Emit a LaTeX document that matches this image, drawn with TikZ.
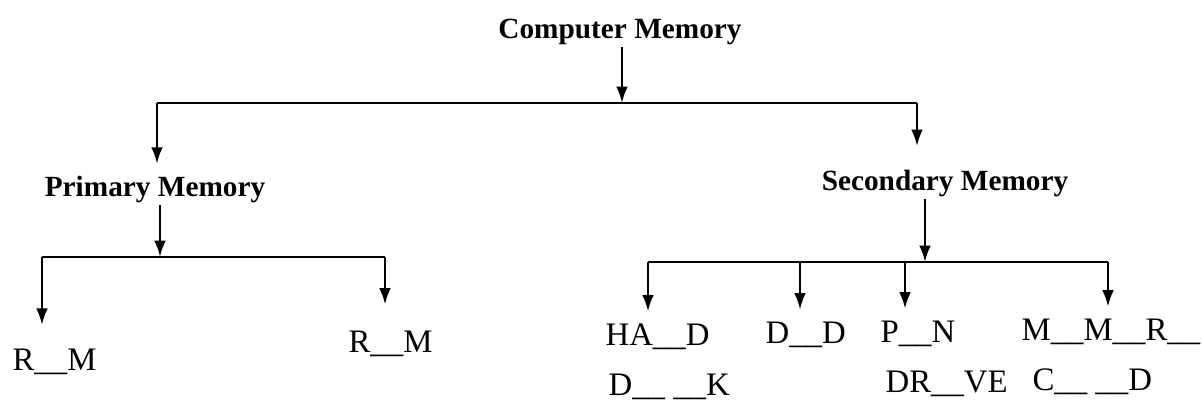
\documentclass[tikz,border=0pt]{standalone}
\usepackage{fontspec}
\setmainfont{Liberation Serif}
\usetikzlibrary{arrows.meta}
\tikzset{
	head/.style={font=\fontsize{25}{30}\selectfont\bfseries, inner sep=2pt},
	gap/.style={font=\fontsize{28}{34}\selectfont, inner sep=2pt},
	bar/.style={line width=2pt},
	link/.style={line width=2pt, -{Latex[length=14pt,width=10pt]}}
}
\begin{document}
\begin{tikzpicture}[x=0.03cm, y=-0.03cm]
				\useasboundingbox (0,0) rectangle (1203,408);
				% headings
				\node[head, anchor=base] (CM) at (620,38) {Computer Memory};
				\node[head, anchor=base] (PM) at (155,196) {Primary Memory};
				\node[head, anchor=base] (SM) at (945,190) {Secondary Memory};
				% primary memory
				\node[gap, anchor=base west] (RM1) at (10,370) {R\_\_M};
				\node[gap, anchor=base west] (RM2) at (346,352) {R\_\_M};
				% secondary memory
				\node[gap, anchor=base west] (HD) at (603,345) {HA\_\_D};
				\node[gap, anchor=base west] (HD2) at (606,395) {D\_\_ \_\_K};
				\node[gap, anchor=base west] (DD) at (763,343) {D\_\_D};
				\node[gap, anchor=base west] (PN) at (878,342) {P\_\_N};
				\node[gap, anchor=base west] (PN2) at (883,392) {DR\_\_VE};
				\node[gap, anchor=base west] (MM) at (1019,340) {M\_\_M\_\_R\_\_};
				\node[gap, anchor=base west] (MC) at (1030,390) {C\_\_ \_\_D};
				% junctions
				\coordinate (topM) at (622,103);
				\coordinate (topL) at (157,103);
				\coordinate (topR) at (917,103);
				\coordinate (priM) at (160,257);
				\coordinate (priL) at (42,257);
				\coordinate (priR) at (385,257);
				\coordinate (secM) at (925,262);
				\coordinate (secA) at (648,262);
				\coordinate (secB) at (800,262);
				\coordinate (secC) at (905,262);
				\coordinate (secD) at (1108,262);
				% top level
				\draw[link] (CM.south -| topM) -- (topM);
				\draw[bar] (topL) -- (topR);
				\draw[link, shorten >=8pt] (topL) -- (topL |- PM.north);
				\draw[link, shorten >=18pt] (topR) -- (topR |- SM.north);
				% primary
				\draw[link] (PM.south -| priM) -- (priM);
				\draw[bar] (priL) -- (priR);
				\draw[link, shorten >=18pt] (priL) -- (priL |- RM1.north);
				\draw[link, shorten >=20pt] (priR) -- (priR |- RM2.north);
				% secondary
				\draw[link] (SM.south -| secM) -- (secM);
				\draw[bar] (secA) -- (secD);
				\draw[link, shorten >=8pt] (secA) -- (secA |- HD.north);
				\draw[link, shorten >=8pt] (secB) -- (secB |- DD.north);
				\draw[link, shorten >=8pt] (secC) -- (secC |- PN.north);
				\draw[link, shorten >=8pt] (secD) -- (secD |- MM.north);
			\end{tikzpicture}
\end{document}
